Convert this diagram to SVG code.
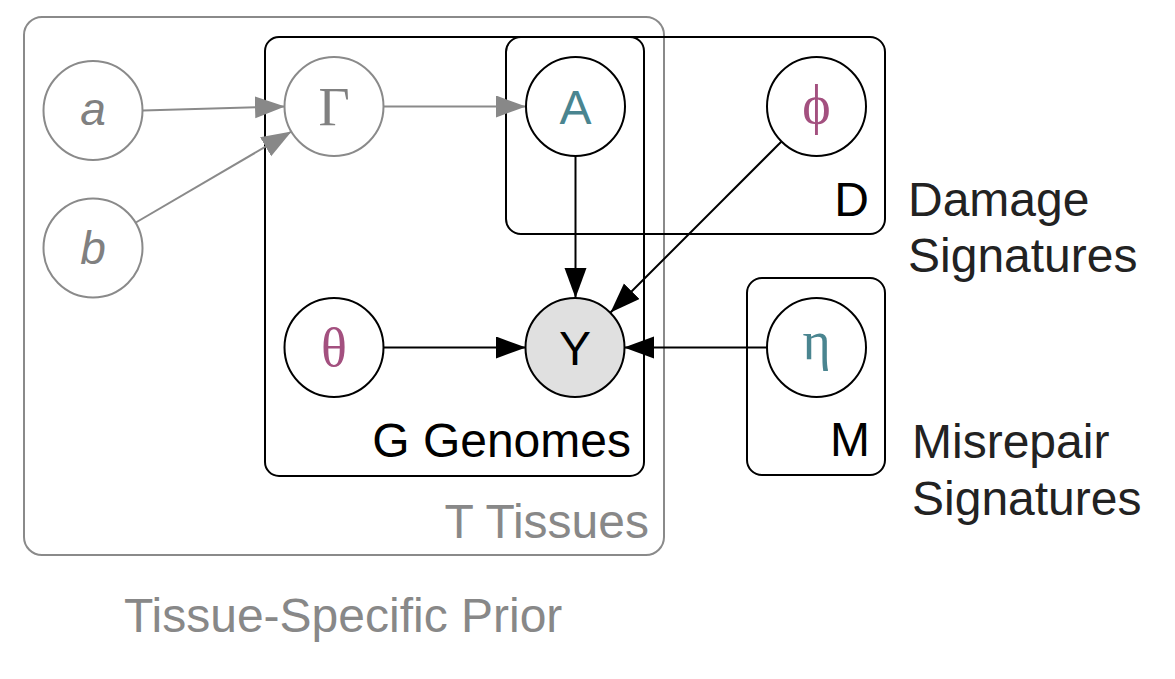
<svg xmlns="http://www.w3.org/2000/svg" width="1175" height="679" viewBox="0 0 1175 679">
<style>
.plate{fill:none;stroke:#000;stroke-width:2}
.plateg{fill:none;stroke:#8a8a8a;stroke-width:2}
.node{fill:#fff;stroke:#000;stroke-width:2}
.nodeg{fill:#fff;stroke:#8a8a8a;stroke-width:2}
.obs{fill:#e0e0e0;stroke:#000;stroke-width:2}
.sans{font-family:"Liberation Sans",Arial,sans-serif}
.serif{font-family:"Liberation Serif","Times New Roman",serif}
.lbl{font-size:48px;fill:#000}
.out{font-size:48px;fill:#222}
.teal{fill:#4a8590}
.mag{fill:#a3507f}
.e{stroke:#000;stroke-width:2;fill:none}
.eg{stroke:#8a8a8a;stroke-width:2;fill:none}
</style>
<defs>
<marker id="ah" markerUnits="userSpaceOnUse" markerWidth="32" markerHeight="24" refX="30" refY="11" orient="auto"><path d="M0,0 L30,11 L0,22 z" fill="#000"/></marker>
<marker id="ahg" markerUnits="userSpaceOnUse" markerWidth="32" markerHeight="24" refX="30" refY="11" orient="auto"><path d="M0,0 L30,11 L0,22 z" fill="#888"/></marker>
</defs>
<rect width="1175" height="679" fill="#fff"/>
<g id="plates">
<rect id="plate-T" class="plateg" x="24" y="17" width="640" height="538" rx="18"/>
<rect id="plate-G" class="plate" x="265" y="37" width="379" height="439" rx="14"/>
<rect id="plate-D" class="plate" x="506" y="37" width="379" height="197" rx="15"/>
<rect id="plate-M" class="plate" x="747" y="278" width="138" height="197" rx="15"/>
<text class="sans lbl" x="869" y="216" text-anchor="end">D</text>
<text class="sans lbl" x="631" y="457" text-anchor="end">G Genomes</text>
<text class="sans lbl" x="649" y="538" text-anchor="end" style="fill:#888">T Tissues</text>
<text class="sans lbl" x="870" y="456" text-anchor="end">M</text>
</g>
<g id="connectors">
<line class="eg" x1="143" y1="110.5" x2="285" y2="106.5" marker-end="url(#ahg)"/>
<line class="eg" x1="135" y1="223" x2="291.5" y2="131.5" marker-end="url(#ahg)"/>
<line class="eg" x1="383" y1="106.5" x2="526" y2="106.5" marker-end="url(#ahg)"/>
<line class="e" x1="575.5" y1="156" x2="575.5" y2="298" marker-end="url(#ah)"/>
<line class="e" x1="781.5" y1="141.5" x2="610.5" y2="312.5" marker-end="url(#ah)"/>
<line class="e" x1="384" y1="347.5" x2="526" y2="347.5" marker-end="url(#ah)"/>
<line class="e" x1="767" y1="347.5" x2="624" y2="347.5" marker-end="url(#ah)"/>
</g>
<g id="node-a"><circle class="nodeg" cx="93" cy="110.5" r="49.5"/><text class="sans" x="93" y="125" font-size="46" font-style="italic" fill="#808080" text-anchor="middle">a</text></g>
<g id="node-b"><circle class="nodeg" cx="93" cy="248" r="49.5"/><text class="sans" x="93" y="264" font-size="46" font-style="italic" fill="#808080" text-anchor="middle">b</text></g>
<g id="node-Gamma"><circle class="nodeg" cx="334" cy="106.5" r="49.5"/><text class="serif" x="334" y="125" font-size="54" fill="#808080" text-anchor="middle">Γ</text></g>
<g id="node-A"><circle class="node" cx="575.5" cy="106.5" r="49.5"/><text class="sans teal" x="575.5" y="124" font-size="48" text-anchor="middle">A</text></g>
<g id="node-phi"><circle class="node" cx="816.5" cy="106.5" r="49.5"/><text class="serif mag" x="816.5" y="123" font-size="54" text-anchor="middle">ϕ</text></g>
<g id="node-theta"><circle class="node" cx="334" cy="347.5" r="49.5"/><text class="serif mag" x="334" y="366" font-size="54" text-anchor="middle">θ</text></g>
<g id="node-Y"><circle class="obs" cx="575" cy="347.5" r="49.5"/><text class="sans" x="575" y="365" font-size="48" fill="#000" text-anchor="middle">Y</text></g>
<g id="node-eta"><circle class="node" cx="816.5" cy="347.5" r="49.5"/><text class="serif teal" x="816.5" y="359" font-size="54" text-anchor="middle">η</text></g>
<g id="labels">
<text class="sans out" x="908" y="216">Damage</text>
<text class="sans out" x="908" y="272">Signatures</text>
<text class="sans out" x="912" y="458">Misrepair</text>
<text class="sans out" x="912" y="515">Signatures</text>
<text class="sans" x="124" y="632" font-size="48" fill="#888">Tissue-Specific Prior</text>
</g>
</svg>
